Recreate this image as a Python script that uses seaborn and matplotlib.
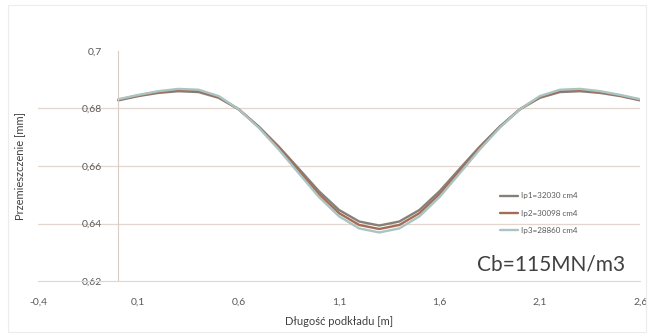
import pandas as pd
import seaborn as sns
import matplotlib.pyplot as plt
from matplotlib.patches import Rectangle

# data
dlugosc = [0.0, 0.1, 0.2, 0.3, 0.4, 0.5, 0.6, 0.7, 0.8, 0.9, 1.0, 1.1, 1.2, 1.3,
           1.4, 1.5, 1.6, 1.7, 1.8, 1.9, 2.0, 2.1, 2.2, 2.3, 2.4, 2.5, 2.6]
ip1 = [0.6828, 0.6843, 0.6854, 0.6860, 0.6857, 0.6837, 0.6797, 0.6737, 0.6667, 0.6590, 0.6512,
       0.6447, 0.6407, 0.6393, 0.6407, 0.6447, 0.6512, 0.6590, 0.6667, 0.6737, 0.6797,
       0.6837, 0.6857, 0.6860, 0.6854, 0.6843, 0.6828]
ip2 = [0.6830, 0.6845, 0.6857, 0.6864, 0.6861, 0.6840, 0.6797, 0.6735, 0.6662, 0.6582, 0.6502,
       0.6436, 0.6395, 0.6381, 0.6395, 0.6436, 0.6502, 0.6582, 0.6662, 0.6735, 0.6797,
       0.6840, 0.6861, 0.6864, 0.6857, 0.6845, 0.6830]
ip3 = [0.6832, 0.6847, 0.6860, 0.6868, 0.6865, 0.6843, 0.6797, 0.6733, 0.6657, 0.6574, 0.6492,
       0.6425, 0.6383, 0.6369, 0.6383, 0.6425, 0.6492, 0.6574, 0.6657, 0.6733, 0.6797,
       0.6843, 0.6865, 0.6868, 0.6860, 0.6847, 0.6832]
serie = ['Ip1=32030 cm4', 'Ip2=30098 cm4', 'Ip3=28860 cm4']
kolory = ['#858079', '#a66c55', '#a9c4c2']

x_ticks = [-0.4, 0.1, 0.6, 1.1, 1.6, 2.1, 2.6]
y_ticks = [0.62, 0.64, 0.66, 0.68, 0.7]

df = pd.concat([
    pd.DataFrame({'x': dlugosc, 'y': vals, 'seria': name})
    for name, vals in zip(serie, [ip1, ip2, ip3])
])

sns.set_style('white')
plt.rcParams['font.family'] = ['Lato', 'DejaVu Sans']

fig = plt.figure(figsize=(6.54, 3.35), dpi=100)
ax = fig.add_axes([0.058, 0.161, 0.921, 0.687])

# horizontal gridlines (none at the top value)
for yv in y_ticks[1:-1]:
    ax.axhline(yv, color='#e3d6cf', linewidth=0.9, zorder=0)

sns.lineplot(data=df, x='x', y='y', hue='seria', palette=kolory, linewidth=1.7, ax=ax,
             sort=False)

ax.set_xlim(-0.4, 2.6)
ax.set_ylim(0.62, 0.7)
ax.set_xticks(x_ticks)
ax.set_yticks(y_ticks)
ax.set_xticklabels([f'{v:g}'.replace('.', ',') for v in x_ticks])
ax.set_yticklabels([f'{v:g}'.replace('.', ',') for v in y_ticks])
ax.tick_params(length=0, labelsize=7.5, labelcolor='#595959')
ax.tick_params(axis='y', pad=12)
ax.tick_params(axis='x', pad=12)

for s in ['top', 'right']:
    ax.spines[s].set_visible(False)
ax.spines['left'].set_position(('data', 0))
ax.spines['left'].set_color('#d9ccc6')
ax.spines['bottom'].set_color('#e3d6cf')

ax.set_xlabel('Długość podkładu [m]', fontsize=8, color='#404040', labelpad=7)
ax.set_ylabel('Przemieszczenie [mm]', fontsize=8, color='#404040')
ax.yaxis.set_label_coords(-0.022, 0.5)

leg = ax.legend(loc='upper left', bbox_to_anchor=(0.767, 0.385), frameon=False, fontsize=5.8,
                handlelength=2.2, labelspacing=1.25, handletextpad=0.4,
                borderaxespad=0, borderpad=0)
for t in leg.get_texts():
    t.set_color('#595959')

ax.text(0.729, 0.07, 'Cb=115MN/m3', transform=ax.transAxes, fontsize=15, color='#404040',
        va='center')

fig.patches.append(Rectangle((0.012, 0.01), 0.976, 0.975, transform=fig.transFigure,
                             fill=False, edgecolor='#ececec', linewidth=0.8))

fig.savefig('out.png', dpi=100)
